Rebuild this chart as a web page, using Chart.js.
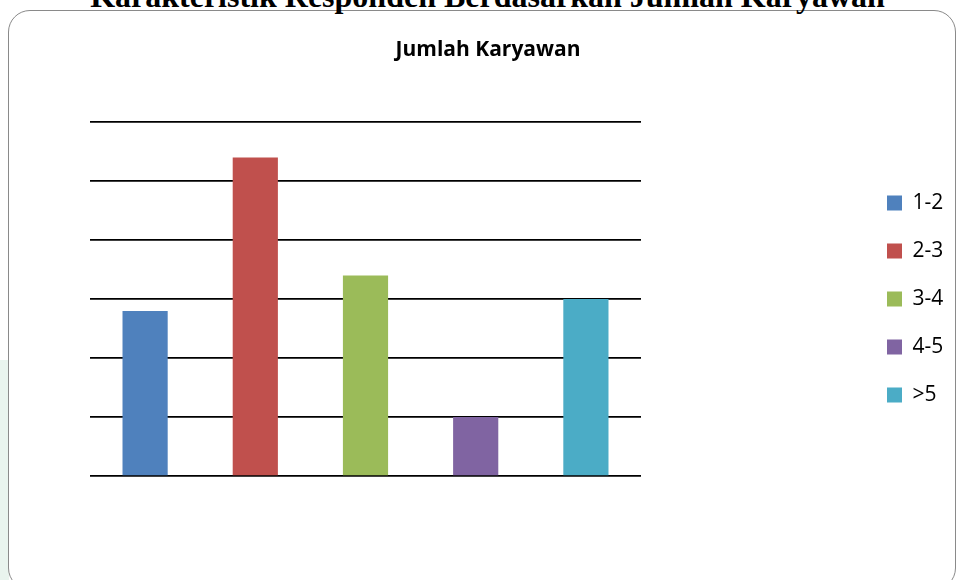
<!DOCTYPE html>
<html>
<head>
<meta charset="utf-8">
<script src="https://cdn.jsdelivr.net/npm/chart.js@4/dist/chart.umd.min.js"></script>
<style>
  html, body { margin: 0; padding: 0; background: #fff; }
  #wrap { position: relative; width: 957px; height: 580px; overflow: hidden; }
  #strip { position: absolute; left: 0; top: 360px; width: 9px; height: 220px; background: #e9f4ee; }
  #frame {
    position: absolute; left: 8px; top: 10px; width: 946px; height: 578px;
    border: 1.5px solid #8a8a8a; border-radius: 22px; background: #fff;
  }
  #heading {
    position: absolute; left: 0; top: -20px; width: 975px; text-align: center;
    font: bold 32px "Liberation Serif", "Times New Roman", serif; line-height: 32px; color: #000;
    white-space: nowrap;
  }
  canvas { position: absolute; left: 0; top: 0; }
</style>
</head>
<body>
<div id="wrap">
  <div id="strip"></div>
  <div id="frame"></div>
  <div id="heading">Karakteristik Responden Berdasarkan Jumlah Karyawan</div>
  <canvas id="grafik" width="957" height="580"></canvas>
</div>
<script>
const kategori = ['1-2', '2-3', '3-4', '4-5', '>5'];
const jumlah = [14, 27, 17, 5, 15];
const warna = ['#4f81bd', '#c0504d', '#9bbb59', '#8064a2', '#4bacc6'];

// legend keeps a fixed width so the plot stops well short of it
const lebarLegend = {
  id: 'lebarLegend',
  beforeInit(chart) {
    const fit = chart.legend.fit;
    chart.legend.fit = function () {
      fit.call(this);
      this.width = 97;
    };
  }
};

new Chart(document.getElementById('grafik'), {
  type: 'bar',
  data: {
    labels: kategori,
    datasets: [{
      label: 'Jumlah Karyawan',
      data: jumlah,
      backgroundColor: warna,
      barPercentage: 0.41,
      categoryPercentage: 1
    }]
  },
  options: {
    responsive: false,
    animation: false,
    layout: { padding: { left: 19, right: 0, top: 20, bottom: 104 } },
    scales: {
      x: { display: false },
      y: {
        min: 0,
        max: 30,
        ticks: { display: false, stepSize: 5 },
        border: { display: false },
        grid: { color: '#000', lineWidth: 1.7, drawTicks: false },
        afterFit(s) { s.width = 71; }
      },
      kanan: {
        position: 'right',
        ticks: { display: false },
        border: { display: false },
        grid: { display: false },
        afterFit(s) { s.width = 219; }
      }
    },
    plugins: {
      title: {
        display: true,
        text: 'Jumlah Karyawan',
        color: '#000',
        font: { family: 'Open Sans', size: 21, weight: 'bold' },
        padding: { top: 17, bottom: 60 }
      },
      legend: {
        position: 'right',
        fullSize: false,
        labels: {
          color: '#000',
          font: { family: 'Open Sans', size: 21 },
          boxWidth: 15,
          boxHeight: 15,
          padding: 27,
          generateLabels(chart) {
            return chart.data.labels.map((l, i) => ({
              text: l,
              fillStyle: warna[i],
              strokeStyle: warna[i],
              lineWidth: 0,
              index: i
            }));
          }
        }
      },
      tooltip: { enabled: false }
    }
  },
  plugins: [lebarLegend]
});
</script>
</body>
</html>
